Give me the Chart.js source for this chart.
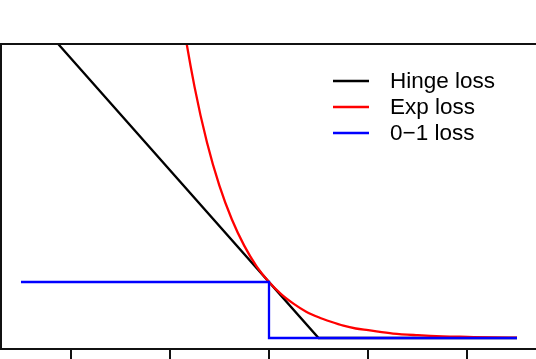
<!DOCTYPE html>
<html>
<head>
<meta charset="utf-8">
<script src="https://cdn.jsdelivr.net/npm/chart.js@4/dist/chart.umd.min.js"></script>
<style>
  html, body { margin: 0; padding: 0; background: #fff; }
  #wrap { width: 536px; height: 359px; }
</style>
</head>
<body>
<div id="wrap"><canvas id="c" width="536" height="359"></canvas></div>
<script>
// ---- data ----
const seriesLabels = ["Hinge loss", "Exp loss", "0\u22121 loss"];
const seriesColors = ["#000000", "#ff0000", "#0000ff"];

const hingeX = [-5, 1, 5];
const hingeY = [6, 0, 0];

const expX = [-2, -1.75, -1.5, -1.25, -1, -0.75, -0.5, -0.25, 0, 0.25, 0.5, 0.75, 1, 1.25, 1.5, 1.75, 2, 2.5, 3, 3.5, 4, 4.5, 5];
const expY = [7.39, 5.75, 4.48, 3.49, 2.72, 2.12, 1.65, 1.28, 1, 0.78, 0.61, 0.47, 0.37, 0.29, 0.22, 0.17, 0.14, 0.08, 0.05, 0.03, 0.02, 0.011, 0.007];

const zeroOneX = [-5, 0, 0, 5];
const zeroOneY = [1, 1, 0, 0];

const xTickValues = [-4, -2, 0, 2, 4];

function pts(xs, ys) { return xs.map((x, i) => ({ x: x, y: ys[i] })); }

const framePlugin = {
  id: 'frame',
  afterDatasetsDraw(chart) {
    const { ctx, chartArea: a } = chart;
    ctx.save();
    ctx.strokeStyle = '#111';
    ctx.lineWidth = 2;
    ctx.beginPath();
    ctx.moveTo(a.right + 2, a.top);
    ctx.lineTo(a.left, a.top);
    ctx.lineTo(a.left, a.bottom);
    ctx.lineTo(a.right + 2, a.bottom);
    ctx.stroke();
    ctx.restore();
  }
};

const legendPlugin = {
  id: 'rlegend',
  afterDraw(chart) {
    const ctx = chart.ctx;
    const lx1 = 333, lx2 = 369, tx = 390, y0 = 81, dy = 26;
    ctx.save();
    ctx.font = '22.5px "Liberation Sans", Arial, sans-serif';
    ctx.textBaseline = 'middle';
    ctx.textAlign = 'left';
    chart.data.datasets.forEach((ds, i) => {
      const y = y0 + i * dy;
      ctx.strokeStyle = ds.borderColor;
      ctx.lineWidth = 2.3;
      ctx.beginPath();
      ctx.moveTo(lx1, y);
      ctx.lineTo(lx2, y);
      ctx.stroke();
      ctx.fillStyle = '#000';
      ctx.fillText(ds.label, tx, y + 1);
    });
    ctx.restore();
  }
};

new Chart(document.getElementById('c'), {
  type: 'line',
  data: {
    datasets: [
      { label: seriesLabels[0], data: pts(hingeX, hingeY), borderColor: seriesColors[0], borderWidth: 2.3, pointRadius: 0, order: 3 },
      { label: seriesLabels[1], data: pts(expX, expY), borderColor: seriesColors[1], borderWidth: 2.3, pointRadius: 0, cubicInterpolationMode: 'monotone', order: 2 },
      { label: seriesLabels[2], data: pts(zeroOneX, zeroOneY), borderColor: seriesColors[2], borderWidth: 2.3, pointRadius: 0, order: 1 }
    ]
  },
  options: {
    responsive: false,
    animation: false,
    layout: { padding: { top: 44, left: 1, right: 0, bottom: 0 } },
    plugins: { legend: { display: false }, tooltip: { enabled: false } },
    scales: {
      x: {
        type: 'linear',
        min: -5.403,
        max: 5.383,
        position: 'bottom',
        border: { display: false },
        grid: { drawOnChartArea: false, drawTicks: true, tickLength: 10, color: '#111', lineWidth: 2 },
        ticks: { display: false },
        afterBuildTicks(scale) { scale.ticks = xTickValues.map(v => ({ value: v })); },
        afterFit(scale) { scale.height = 10; }
      },
      y: {
        type: 'linear',
        min: -0.196,
        max: 5.25,
        display: false
      }
    }
  },
  plugins: [framePlugin, legendPlugin]
});
</script>
</body>
</html>
